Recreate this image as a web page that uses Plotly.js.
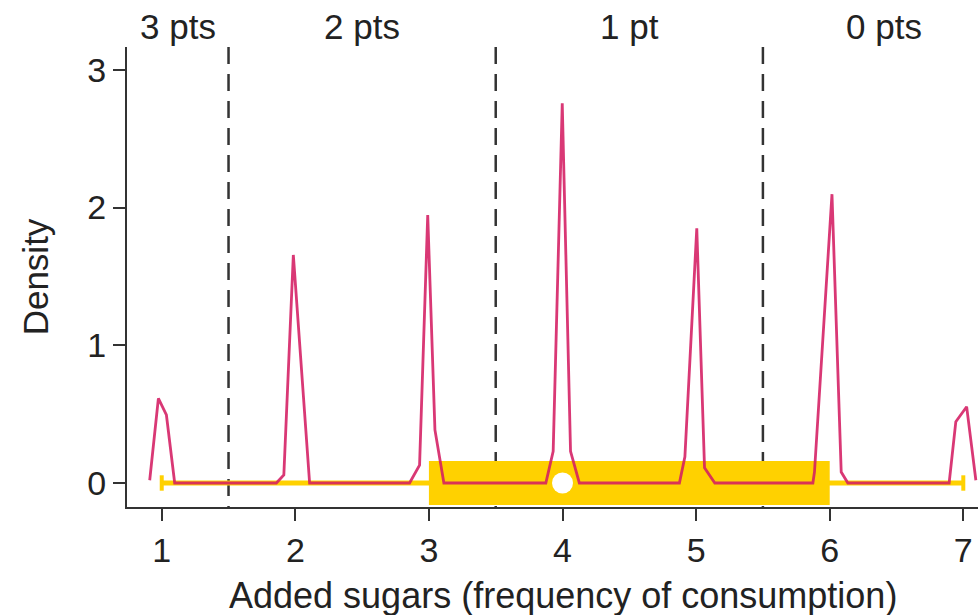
<!DOCTYPE html>
<html>
<head>
<meta charset="utf-8">
<script src="https://cdn.plot.ly/plotly-3.0.1.min.js"></script>
<style>html,body{margin:0;padding:0;background:#fff;overflow:hidden}#chart{width:978px;height:615px}</style>
</head>
<body>
<div id="chart"></div>
<script>
// Density curve of added sugars frequency (vertices)
const densX = [0.91, 0.975, 1.035, 1.097, 1.858, 1.914, 1.985, 2.107,
               2.855, 2.93, 2.991, 3.045, 3.112,
               3.875, 3.93, 3.998, 4.06, 4.126,
               4.875, 4.916, 5.005, 5.063, 5.14,
               5.874, 5.886, 6.017, 6.086, 6.136,
               6.894, 6.944, 7.025, 7.094];
const densY = [0.02, 0.615, 0.494, 0.0, 0.0, 0.058, 1.656, 0.0,
               0.0, 0.13, 1.946, 0.385, 0.0,
               0.0, 0.23, 2.757, 0.23, 0.0,
               0.0, 0.19, 1.85, 0.11, 0.0,
               0.0, 0.08, 2.097, 0.08, 0.0,
               0.0, 0.445, 0.554, 0.02];
// Summary interval
const rangeMinMax = [1, 7];
const quartiles = [3, 6];
const median = [4];
// Score cut points and zone labels
const cutPoints = [1.5, 3.5, 5.5];
const zoneLabels = ["3 pts", "2 pts", "1 pt", "0 pts"];
const xTicks = [1, 2, 3, 4, 5, 6, 7];
const yTicks = [0, 1, 2, 3];

const yellow = '#FFD100';
const pink = 'rgba(212,28,98,0.88)';
const ink = '#222222';
const axisCol = '#333333';
const font = 'Liberation Sans, Arial, sans-serif';

const xRange = [0.74, 7.11];
const zoneEdges = [0.74].concat(cutPoints, [7.31]);

const traces = [
  {x: rangeMinMax, y: [0, 0], mode: 'lines+markers', type: 'scatter',
   line: {color: yellow, width: 5},
   marker: {symbol: 'line-ns', size: 11, color: yellow, line: {color: yellow, width: 4}},
   hoverinfo: 'skip'},
  {x: quartiles, y: [0, 0], mode: 'lines', type: 'scatter',
   line: {color: yellow, width: 44}, hoverinfo: 'skip'},
  {x: densX, y: densY, mode: 'lines', type: 'scatter',
   line: {color: pink, width: 2.8}, hoverinfo: 'skip'},
  {x: median, y: [0], mode: 'markers', type: 'scatter',
   marker: {symbol: 'circle', size: 21, color: '#ffffff'}, hoverinfo: 'skip'}
];

const shapes = cutPoints.map(c => ({
  type: 'line', xref: 'x', yref: 'paper', x0: c, x1: c, y0: 1, y1: 0,
  line: {color: axisCol, width: 2.5, dash: '17px,10px'}, layer: 'below'
}));

const annotations = zoneLabels.map((t, i) => ({
  text: t, xref: 'x', yref: 'paper',
  x: (zoneEdges[i] + zoneEdges[i + 1]) / 2, y: 1, yanchor: 'bottom', yshift: -1,
  showarrow: false, font: {family: font, size: 35, color: ink}
}));
annotations.push({
  text: 'Added sugars (frequency of consumption)', xref: 'paper', yref: 'paper',
  x: 0.512, y: 0, yanchor: 'top', yshift: -66, showarrow: false,
  font: {family: font, size: 36, color: ink}
});

const layout = {
  width: 978, height: 615,
  margin: {l: 127, r: 0, t: 47, b: 108},
  paper_bgcolor: '#ffffff', plot_bgcolor: '#ffffff',
  showlegend: false, hovermode: false,
  font: {family: font, color: ink, size: 34},
  xaxis: {range: xRange, tickvals: xTicks, ticktext: xTicks.map(String),
          showline: true, linecolor: axisCol, linewidth: 2, ticks: 'outside',
          ticklen: 12, tickwidth: 2, tickcolor: axisCol, showgrid: false, zeroline: false,
          tickfont: {family: font, size: 34, color: ink}},
  yaxis: {range: [-0.1743, 3.166], tickvals: yTicks, ticktext: yTicks.map(String),
          showline: true, linecolor: axisCol, linewidth: 2, ticks: 'outside',
          ticklen: 12, tickwidth: 2, tickcolor: axisCol, showgrid: false, zeroline: false,
          tickfont: {family: font, size: 34, color: ink},
          title: {text: 'Density', font: {family: font, size: 35, color: ink}, standoff: 28}},
  shapes: shapes,
  annotations: annotations
};

Plotly.newPlot('chart', traces, layout, {staticPlot: true, displayModeBar: false});
</script>
</body>
</html>
